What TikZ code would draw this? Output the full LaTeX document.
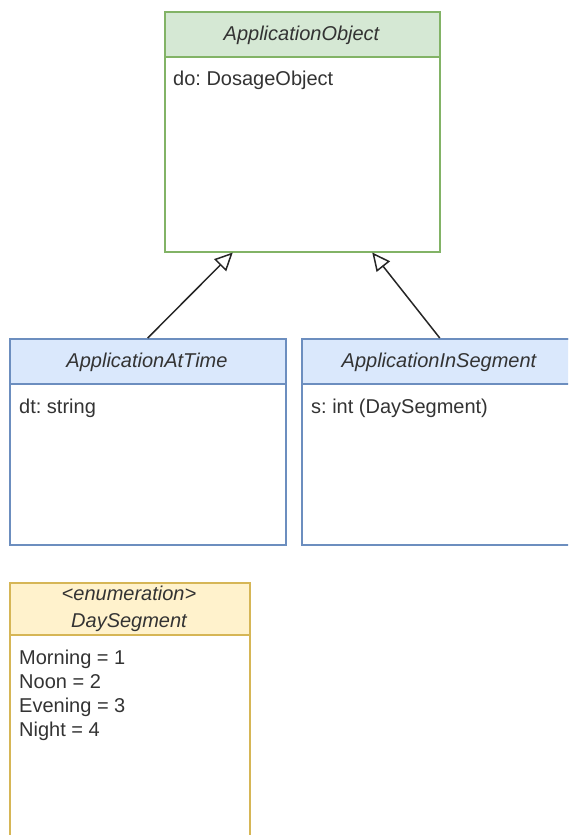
\documentclass[tikz,border=0pt]{standalone}
\usepackage{fontspec}
\setmainfont{Liberation Sans}
\frenchspacing
\usetikzlibrary{arrows.meta,calc}
\definecolor{gfill}{HTML}{D5E8D4}
\definecolor{gdraw}{HTML}{82B366}
\definecolor{bfill}{HTML}{DAE8FC}
\definecolor{bdraw}{HTML}{6C8EBF}
\definecolor{yfill}{HTML}{FFF2CC}
\definecolor{ydraw}{HTML}{D6B656}
\definecolor{txt}{HTML}{333333}
\tikzset{
  clsbox/.style={rectangle, draw, fill=white, line width=1.5pt, anchor=north west, inner sep=0pt},
  hdrbox/.style={rectangle, draw, line width=1.5pt, anchor=north west, inner sep=0pt},
  ttl/.style={text=txt, font=\fontsize{20}{24}\selectfont\itshape, anchor=base, inner sep=0pt},
  attr/.style={text=txt, font=\fontsize{20}{24}\selectfont, anchor=base west, inner sep=0pt},
  inherit/.style={line width=1.5pt, draw=black!85, -{Triangle[open, length=18pt, width=17pt, line width=1.5pt]}}
}
\begin{document}
\begin{tikzpicture}[x=1pt,y=-1pt]
\useasboundingbox (0,0) rectangle (568,835);
\clip (0,0) rectangle (568,835);
% ApplicationObject
\node[clsbox, draw=gdraw, minimum width=275pt, minimum height=240pt] (ao) at (164,11) {};
\node[hdrbox, draw=gdraw, fill=gfill, minimum width=275pt, minimum height=45pt] (aoh) at (ao.north west) {};
\node[ttl] (aot) at (301.5,40) {ApplicationObject};
\node[attr] (aoa) at (173,85) {do: DosageObject};
% ApplicationAtTime
\node[clsbox, draw=bdraw, minimum width=276pt, minimum height=206pt] (at) at (9,338) {};
\node[hdrbox, draw=bdraw, fill=bfill, minimum width=276pt, minimum height=45pt] (ath) at (at.north west) {};
\node[ttl] (att) at (147,367) {ApplicationAtTime};
\node[attr] (ata) at (19,413) {dt: string};
% ApplicationInSegment
\node[clsbox, draw=bdraw, minimum width=276pt, minimum height=206pt] (ais) at (301,338) {};
\node[hdrbox, draw=bdraw, fill=bfill, minimum width=276pt, minimum height=45pt] (aish) at (ais.north west) {};
\node[ttl] (aist) at (439,367) {ApplicationInSegment};
\node[attr] (aisa) at (311,413) {s: int (DaySegment)};
% DaySegment
\node[clsbox, draw=ydraw, minimum width=240pt, minimum height=262pt] (ds) at (9,582) {};
\node[hdrbox, draw=ydraw, fill=yfill, minimum width=240pt, minimum height=52pt] (dsh) at (ds.north west) {};
\node[ttl] (dst1) at (129,600) {<enumeration>};
\node[ttl] (dst2) at (129,627) {DaySegment};
\node[attr] (ds1) at (19,664) {Morning = 1};
\node[attr] (ds2) at (19,688) {Noon = 2};
\node[attr] (ds3) at (19,712) {Evening = 3};
\node[attr] (ds4) at (19,736) {Night = 4};
% inheritance
\draw[inherit] (at.north) -- ($(ao.south)+(-69.5,0)$);
\draw[inherit] (ais.north) -- ($(ao.south)+(70,0)$);
\end{tikzpicture}
\end{document}
